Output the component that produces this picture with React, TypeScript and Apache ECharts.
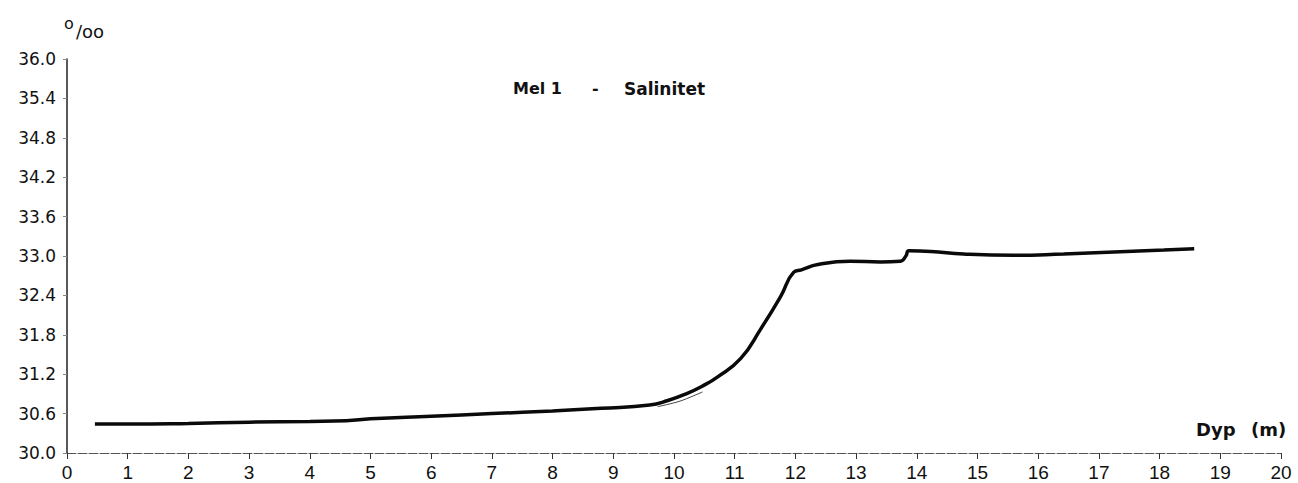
import React, { useEffect, useRef } from "react";
import * as echarts from "echarts";

const depth = [0.46, 1.0, 2.0, 3.0, 4.0, 4.6, 5.0, 6.0, 7.0, 8.0, 8.8, 9.6, 9.9, 10.2, 10.45, 10.72, 11.1, 11.43, 11.76, 11.97, 12.1, 12.37, 12.9, 13.4, 13.73, 13.82, 13.87, 14.23, 14.77, 15.6, 16.42, 17.25, 18.07, 18.57];
const salinity = [30.44, 30.44, 30.45, 30.47, 30.48, 30.49, 30.52, 30.56, 30.6, 30.64, 30.68, 30.73, 30.8, 30.9, 31.01, 31.16, 31.44, 31.89, 32.39, 32.75, 32.79, 32.87, 32.92, 32.91, 32.92, 33.0, 33.08, 33.07, 33.03, 33.01, 33.03, 33.06, 33.09, 33.11];

const depthThin = [9.73, 10.1, 10.47];
const salinityThin = [30.705, 30.79, 30.93];

const yMin = 30.0;
const yMax = 36.0;
const yStep = 0.6;
const xMin = 0;
const xMax = 20;
const xStep = 1;

const title = ["Mel 1", "-", "Salinitet"];
const xName = ["Dyp", "(m)"];

export default function App() {
  const ref = useRef<HTMLDivElement>(null);
  useEffect(() => {
    if (!ref.current) return;
    const chart = echarts.init(ref.current, undefined, { renderer: "svg" });
    const font = "'DejaVu Sans', sans-serif";
    const titleFont = { fontFamily: font, fontSize: 16, fontWeight: "bold" as const, fill: "#111" };
    chart.setOption({
      animation: false,
      backgroundColor: "#fff",
      grid: { left: 67, right: 17, top: 59, bottom: 30 },
      xAxis: {
        type: "value",
        min: xMin,
        max: xMax,
        interval: xStep,
        axisLine: { show: true, onZero: false, lineStyle: { color: "#555", width: 1, type: [9, 2] } },
        axisTick: { show: true, length: 6, lineStyle: { color: "#333", width: 1 } },
        axisLabel: {
          margin: 10,
          fontFamily: "'Liberation Sans', Arial, sans-serif",
          fontSize: 19,
          color: "#111",
        },
        splitLine: { show: false },
      },
      yAxis: {
        type: "value",
        min: yMin,
        max: yMax,
        interval: yStep,
        axisLine: { show: true, onZero: false, lineStyle: { color: "#222", width: 1.5 } },
        axisTick: { show: true, length: 4, lineStyle: { color: "#888", width: 1 } },
        axisLabel: {
          margin: 11,
          fontFamily: font,
          fontSize: 17,
          color: "#111",
          formatter: (v: number) => v.toFixed(1),
        },
        splitLine: { show: false },
      },
      graphic: [
        { type: "text", left: 64, top: 15, style: { text: "o", fontFamily: font, fontSize: 16, fill: "#111" } },
        { type: "text", left: 76, top: 22, style: { text: "/oo", fontFamily: font, fontSize: 18, fill: "#111" } },
        { type: "text", left: 513, top: 80, style: { text: title[0], ...titleFont } },
        { type: "text", left: 592, top: 80, style: { text: title[1], ...titleFont } },
        { type: "text", left: 624, top: 80, style: { text: title[2], ...titleFont, fontSize: 17 } },
        { type: "text", left: 1196, top: 420, style: { text: xName[0], ...titleFont, fontSize: 18 } },
        { type: "text", left: 1251, top: 420, style: { text: xName[1], ...titleFont, fontSize: 18 } },
      ],
      series: [
        {
          type: "line",
          data: depth.map((d, i) => [d, salinity[i]]),
          smooth: 0.5,
          showSymbol: false,
          lineStyle: { color: "#0a0a0a", width: 3.5 },
        },
        {
          type: "line",
          data: depthThin.map((d, i) => [d, salinityThin[i]]),
          smooth: 0.3,
          showSymbol: false,
          lineStyle: { color: "#444", width: 1 },
        },
      ],
    });
    return () => chart.dispose();
  }, []);
  return (
    <div
      ref={ref}
      style={{ position: "absolute", left: 0, top: 0, width: 1298, height: 483 }}
    />
  );
}
